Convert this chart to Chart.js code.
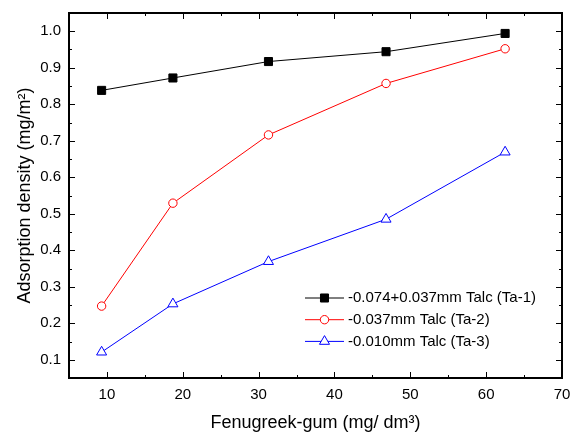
<!DOCTYPE html>
<html>
<head>
<meta charset="utf-8">
<script src="https://cdn.jsdelivr.net/npm/chart.js@4/dist/chart.umd.min.js"></script>
<style>
  html, body { margin: 0; padding: 0; background: #fff; }
  #wrap { width: 570px; height: 432px; }
</style>
</head>
<body>
<div id="wrap"><canvas id="grafico" width="570" height="432"></canvas></div>
<script>
// dados
const dosagem = [9.3, 18.7, 31.3, 46.8, 62.5];
const ta1 = [0.838, 0.872, 0.917, 0.944, 0.994];
const ta2 = [0.247, 0.529, 0.716, 0.857, 0.952];
const ta3 = [0.121, 0.253, 0.369, 0.485, 0.669];

const nomes = ['-0.074+0.037mm Talc (Ta-1)', '-0.037mm Talc (Ta-2)', '-0.010mm Talc (Ta-3)'];
const xTicks = [10, 20, 30, 40, 50, 60, 70];
const yTicks = [0.1, 0.2, 0.3, 0.4, 0.5, 0.6, 0.7, 0.8, 0.9, 1.0];

const fonte = 'Liberation Sans, Arial, sans-serif';

function pontos(ys) {
    return dosagem.map((x, i) => ({ x: x, y: ys[i] }));
}

// moldura + ticks para dentro (estilo Origin)
const moldura = {
    id: 'moldura',
    afterDatasetsDraw(chart) {
        const { ctx, chartArea: a, scales: { x, y } } = chart;
        ctx.save();
        ctx.strokeStyle = '#000';
        ctx.lineWidth = 1;
        for (let v = 5; v <= 70; v += 5) {
            const px = Math.round(x.getPixelForValue(v)) + 0.5;
            const len = v % 10 === 0 ? 6 : 3;
            ctx.beginPath();
            ctx.moveTo(px, a.bottom); ctx.lineTo(px, a.bottom - len);
            ctx.moveTo(px, a.top); ctx.lineTo(px, a.top + len);
            ctx.stroke();
        }
        for (let k = 1; k <= 21; k++) {
            const v = k * 0.05;
            const py = Math.round(y.getPixelForValue(v)) + 0.5;
            const len = k % 2 === 0 ? 6 : 3;
            ctx.beginPath();
            ctx.moveTo(a.left, py); ctx.lineTo(a.left + len, py);
            ctx.moveTo(a.right, py); ctx.lineTo(a.right - len, py);
            ctx.stroke();
        }
        ctx.lineWidth = 2;
        ctx.strokeRect(a.left, a.top, a.right - a.left, a.bottom - a.top);
        ctx.restore();
    }
};

// legenda dentro do gráfico
const legendaDentro = {
    id: 'legendaDentro',
    afterDraw(chart) {
        const { ctx } = chart;
        ctx.save();
        ctx.font = '15px ' + fonte;
        ctx.textBaseline = 'middle';
        chart.data.datasets.forEach((ds, i) => {
            const yy = 298 + i * 21.7;
            ctx.strokeStyle = ds.borderColor;
            ctx.lineWidth = 1;
            ctx.beginPath();
            ctx.moveTo(305, yy); ctx.lineTo(344, yy);
            ctx.stroke();
            ctx.fillStyle = ds.pointBackgroundColor;
            ctx.strokeStyle = ds.pointBorderColor;
            Chart.helpers.drawPoint(ctx, {
                pointStyle: ds.pointStyle,
                radius: ds.pointRadius,
                borderWidth: 1
            }, 324.5, yy);
            ctx.fillStyle = '#000';
            ctx.fillText(ds.label, 348, yy);
        });
        ctx.restore();
    }
};

const ctx = document.getElementById('grafico').getContext('2d');

const grafico = new Chart(ctx, {
    type: 'line',
    data: {
        datasets: [
            {
                label: nomes[0],
                data: pontos(ta1),
                borderColor: '#000000',
                pointStyle: 'rect',
                pointRadius: 5.7,
                pointBackgroundColor: '#000000',
                pointBorderColor: '#000000',
                borderWidth: 1
            },
            {
                label: nomes[1],
                data: pontos(ta2),
                borderColor: '#ff0000',
                pointStyle: 'circle',
                pointRadius: 4.2,
                pointBackgroundColor: '#ffffff',
                pointBorderColor: '#ff0000',
                borderWidth: 1
            },
            {
                label: nomes[2],
                data: pontos(ta3),
                borderColor: '#0000ff',
                pointStyle: 'triangle',
                pointRadius: 5.8,
                pointBackgroundColor: '#ffffff',
                pointBorderColor: '#0000ff',
                borderWidth: 1
            }
        ]
    },
    options: {
        responsive: false,
        animation: false,
        devicePixelRatio: 1,
        layout: { padding: { top: 13, right: 8, left: 0, bottom: 0 } },
        plugins: {
            legend: { display: false },
            tooltip: { enabled: false }
        },
        elements: { line: { tension: 0 } },
        scales: {
            x: {
                type: 'linear',
                min: 5,
                max: 70,
                grid: { display: false, drawTicks: false },
                border: { display: false },
                afterBuildTicks: (s) => { s.ticks = xTicks.map(v => ({ value: v })); },
                afterFit: (s) => { s.height = 54; s.paddingLeft = 0; s.paddingRight = 0; },
                ticks: {
                    padding: 8,
                    color: '#000',
                    font: { family: fonte, size: 15 }
                },
                title: {
                    display: true,
                    text: 'Fenugreek-gum (mg/ dm³)',
                    color: '#000',
                    font: { family: fonte, size: 18 },
                    padding: { top: 0, bottom: -2 }
                }
            },
            y: {
                min: 0.05,
                max: 1.05,
                grid: { display: false, drawTicks: false },
                border: { display: false },
                afterBuildTicks: (s) => { s.ticks = yTicks.map(v => ({ value: v })); },
                afterFit: (s) => { s.width = 69; s.paddingTop = 0; s.paddingBottom = 0; },
                ticks: {
                    padding: 8,
                    color: '#000',
                    font: { family: fonte, size: 15 },
                    callback: (v) => v.toFixed(1)
                },
                title: {
                    display: true,
                    text: 'Adsorption density (mg/m²)',
                    color: '#000',
                    font: { family: fonte, size: 18 },
                    padding: { top: 14, bottom: 0 }
                }
            }
        }
    },
    plugins: [moldura, legendaDentro]
});
</script>
</body>
</html>
